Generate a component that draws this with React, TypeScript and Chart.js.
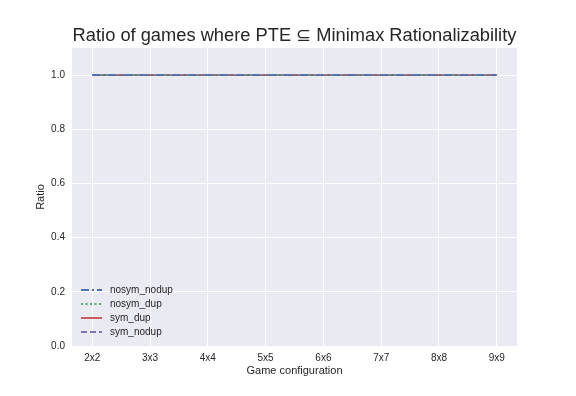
import React, { useEffect, useRef } from "react";
import { Chart, registerables } from "chart.js";
Chart.register(...registerables);

const categories = ["2x2", "3x3", "4x4", "5x5", "6x6", "7x7", "8x8", "9x9"];
const nosymNodup = [1, 1, 1, 1, 1, 1, 1, 1];
const nosymDup = [1, 1, 1, 1, 1, 1, 1, 1];
const symDup = [1, 1, 1, 1, 1, 1, 1, 1];
const symNodup = [1, 1, 1, 1, 1, 1, 1, 1];
const yTicks = [0, 0.2, 0.4, 0.6, 0.8, 1.0];

const FONT = "'Liberation Sans', Arial, sans-serif";
const TXT = "#262626";

const series = [
  { label: "nosym_nodup", data: nosymNodup, color: "#4C72B0", dash: [8, 3, 2, 3] },
  { label: "nosym_dup", data: nosymDup, color: "#55A868", dash: [2, 2.5] },
  { label: "sym_dup", data: symDup, color: "#C44E52", dash: [] as number[] },
  { label: "sym_nodup", data: symNodup, color: "#8172B2", dash: [6, 3] },
];

const bgPlugin = {
  id: "bg",
  beforeDraw(chart: any) {
    const { ctx, chartArea: a } = chart;
    ctx.save();
    ctx.fillStyle = "#ffffff";
    ctx.fillRect(0, 0, chart.width, chart.height);
    ctx.fillStyle = "#EAEAF2";
    ctx.fillRect(a.left, a.top, a.right - a.left, a.bottom - a.top);
    ctx.restore();
  },
  afterDraw(chart: any) {
    const { ctx, chartArea: a } = chart;
    ctx.save();
    ctx.fillStyle = TXT;
    ctx.font = `18.3px ${FONT}`;
    ctx.textAlign = "center";
    ctx.textBaseline = "middle";
    ctx.fillText("Ratio of games where PTE \u2286 Minimax Rationalizability", (a.left + a.right) / 2, 36);
    // axis titles
    ctx.font = `11px ${FONT}`;
    ctx.fillText("Game configuration", (a.left + a.right) / 2, 371);
    ctx.save();
    ctx.translate(41, (a.top + a.bottom) / 2);
    ctx.rotate(-Math.PI / 2);
    ctx.fillText("Ratio", 0, 0);
    ctx.restore();
    // legend
    ctx.font = `10px ${FONT}`;
    ctx.textAlign = "left";
    series.forEach((s, i) => {
      const y = a.bottom - 56 + i * 14;
      ctx.strokeStyle = s.color;
      ctx.lineWidth = 1.8;
      ctx.setLineDash(s.dash);
      ctx.beginPath();
      ctx.moveTo(a.left + 9, y);
      ctx.lineTo(a.left + 30, y);
      ctx.stroke();
      ctx.setLineDash([]);
      ctx.fillStyle = TXT;
      ctx.fillText(s.label, a.left + 38, y);
    });
    ctx.restore();
  },
};

export default function App() {
  const ref = useRef<HTMLCanvasElement>(null);
  useEffect(() => {
    if (!ref.current) return;
    const chart = new Chart(ref.current, {
      type: "line",
      data: {
        datasets: series.map((s) => ({
          label: s.label,
          data: s.data.map((v, i) => ({ x: i, y: v })),
          borderColor: s.color,
          backgroundColor: s.color,
          borderDash: s.dash,
          borderWidth: 1.8,
          pointRadius: 0,
          fill: false,
        })),
      },
      options: {
        animation: false,
        responsive: false,
        devicePixelRatio: 1,
        layout: { padding: { top: 48, right: 59, left: 0, bottom: 0 } },
        plugins: { legend: { display: false }, title: { display: false }, tooltip: { enabled: false } },
        scales: {
          x: {
            type: "linear",
            min: -0.35,
            max: 7.35,
            afterFit(s: any) { s.height = 50; },
            afterBuildTicks(s: any) { s.ticks = categories.map((_, i) => ({ value: i })); },
            ticks: {
              autoSkip: false,
              maxRotation: 0,
              color: TXT,
              font: { family: FONT, size: 10 },
              padding: 6,
              callback: (v: any) => categories[v] ?? "",
            },
            grid: { color: "#ffffff", lineWidth: 1, drawTicks: false },
            border: { display: false },
          },
          y: {
            min: 0,
            max: 1.1,
            afterFit(s: any) { s.width = 72; },
            afterBuildTicks(s: any) { s.ticks = yTicks.map((v) => ({ value: v })); },
            ticks: {
              color: TXT,
              font: { family: FONT, size: 10 },
              padding: 7,
              callback: (v: any) => Number(v).toFixed(1),
            },
            grid: { color: "#ffffff", lineWidth: 1, drawTicks: false },
            border: { display: false },
          },
        },
      },
      plugins: [bgPlugin],
    } as any);
    return () => chart.destroy();
  }, []);
  return (
    <div style={{ position: "absolute", left: 0, top: 0 }}>
      <canvas ref={ref} width={576} height={396} style={{ width: 576, height: 396, display: "block" }} />
    </div>
  );
}
